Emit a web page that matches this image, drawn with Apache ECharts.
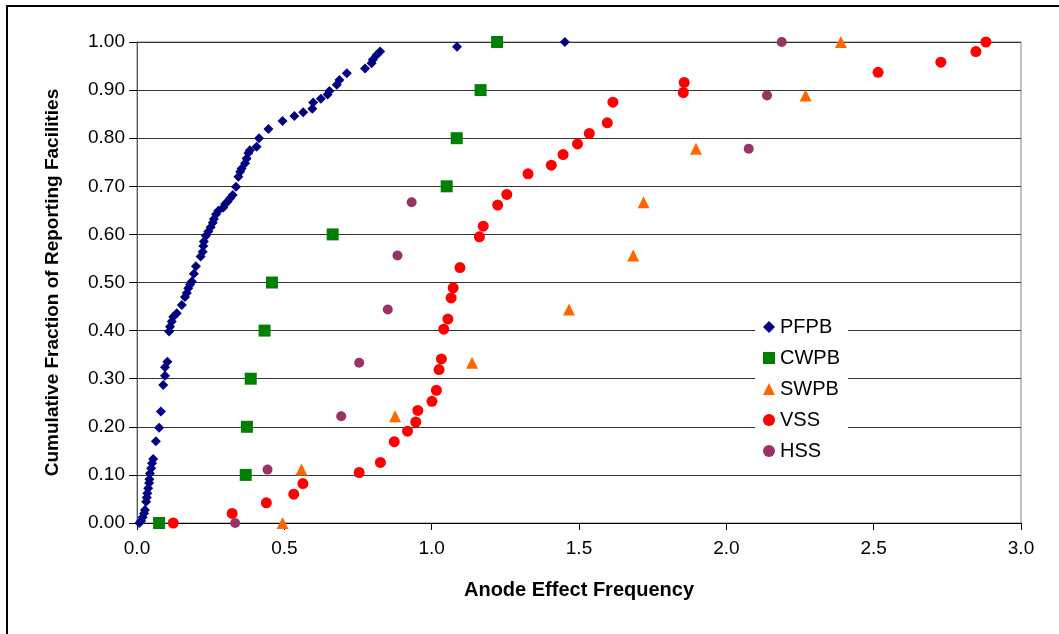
<!DOCTYPE html>
<html>
<head>
<meta charset="utf-8">
<script src="https://cdn.jsdelivr.net/npm/echarts@6/dist/echarts.min.js"></script>
<style>html,body{margin:0;padding:0;background:#fff}#c{width:1059px;height:634px}</style>
</head>
<body>
<div id="c"></div>
<script>
const seriesNames = ['PFPB','CWPB','SWPB','VSS','HSS'];
const xTicks = ['0.0','0.5','1.0','1.5','2.0','2.5','3.0'];
const yTicks = ['0.00','0.10','0.20','0.30','0.40','0.50','0.60','0.70','0.80','0.90','1.00'];

const PFPB = [[0.008,0.000],[0.014,0.004],[0.019,0.012],[0.024,0.020],[0.027,0.027],[0.031,0.044],[0.033,0.053],[0.035,0.062],[0.038,0.072],[0.041,0.083],[0.042,0.091],[0.044,0.103],[0.048,0.114],[0.051,0.124],[0.055,0.133],[0.064,0.170],[0.075,0.198],[0.081,0.232],[0.089,0.287],[0.095,0.306],[0.095,0.324],[0.103,0.335],[0.109,0.398],[0.112,0.408],[0.118,0.419],[0.123,0.429],[0.135,0.436],[0.152,0.453],[0.163,0.470],[0.169,0.478],[0.174,0.488],[0.180,0.496],[0.186,0.502],[0.193,0.518],[0.200,0.534],[0.216,0.554],[0.223,0.564],[0.225,0.576],[0.227,0.585],[0.234,0.597],[0.242,0.606],[0.250,0.615],[0.257,0.624],[0.261,0.632],[0.268,0.642],[0.276,0.649],[0.293,0.656],[0.299,0.663],[0.307,0.668],[0.316,0.675],[0.325,0.682],[0.336,0.699],[0.344,0.720],[0.350,0.730],[0.355,0.737],[0.367,0.748],[0.372,0.758],[0.378,0.769],[0.383,0.775],[0.406,0.782],[0.414,0.800],[0.446,0.819],[0.494,0.836],[0.534,0.846],[0.564,0.854],[0.595,0.861],[0.598,0.874],[0.624,0.882],[0.647,0.891],[0.653,0.898],[0.678,0.911],[0.687,0.921],[0.712,0.935],[0.774,0.945],[0.796,0.956],[0.800,0.963],[0.813,0.973],[0.825,0.980],[1.086,0.990],[1.452,1.000]];
const CWPB = [[0.075,0],[0.369,0.1],[0.373,0.2],[0.386,0.3],[0.433,0.4],[0.458,0.5],[0.664,0.6],[1.051,0.7],[1.085,0.8],[1.166,0.9],[1.222,1.0]];
const SWPB = [[0.494,0],[0.558,0.111],[0.876,0.222],[1.137,0.333],[1.466,0.444],[1.684,0.556],[1.719,0.667],[1.897,0.778],[2.269,0.889],[2.389,1.0]];
const VSS = [[0.123,0.000],[0.323,0.020],[0.439,0.042],[0.532,0.060],[0.563,0.082],[0.754,0.105],[0.826,0.126],[0.873,0.169],[0.918,0.191],[0.946,0.210],[0.953,0.234],[1.001,0.253],[1.016,0.276],[1.025,0.319],[1.033,0.341],[1.041,0.403],[1.055,0.424],[1.066,0.468],[1.073,0.489],[1.096,0.531],[1.162,0.595],[1.175,0.617],[1.224,0.661],[1.255,0.683],[1.327,0.726],[1.406,0.744],[1.446,0.766],[1.495,0.788],[1.535,0.810],[1.596,0.832],[1.615,0.875],[1.854,0.895],[1.857,0.916],[2.515,0.937],[2.728,0.958],[2.847,0.980],[2.881,1.000]];
const HSS = [[0.333,0],[0.443,0.111],[0.693,0.222],[0.754,0.333],[0.851,0.444],[0.884,0.556],[0.932,0.667],[2.076,0.778],[2.138,0.889],[2.188,1.0]];

const dataSets = [PFPB, CWPB, SWPB, VSS, HSS];
const colors = ['#000080','#008000','#FF6600','#FF0000','#993366'];
const symbols = ['diamond','rect','triangle','circle','circle'];
const sizes = [10,12,12,11,10];

const FONT = '"Liberation Sans", Arial, sans-serif';
const chart = echarts.init(document.getElementById('c'), null, {renderer:'canvas'});
chart.setOption({
  animation:false,
  backgroundColor:'#fff',
  graphic:[{type:'rect', shape:{x:7,y:6,width:1200,height:1000}, style:{fill:'none', stroke:'#000', lineWidth:2}, z:-10}],
  grid:{left:137, right:38, top:42, bottom:111, show:true, borderColor:'#808080', borderWidth:1, backgroundColor:'transparent'},
  legend:{
    orient:'vertical', left:755, top:311, itemGap:11, itemWidth:12, itemHeight:12,
    backgroundColor:'#fff', padding:[6,8,6,8],
    textStyle:{fontFamily:FONT, fontSize:20, color:'#000'},
    data: seriesNames.map((n,i)=>({name:n, icon:symbols[i], itemStyle:{color:colors[i]}}))
  },
  xAxis:{
    type:'value', min:0, max:3, interval:0.5,
    name:'Anode Effect Frequency', nameLocation:'middle', nameGap:57,
    nameTextStyle:{fontFamily:FONT, fontSize:20, fontWeight:'bold', color:'#000'},
    axisLine:{show:true, onZero:false, lineStyle:{color:'#000', width:1}},
    axisTick:{show:true, length:7, lineStyle:{color:'#000'}},
    axisLabel:{fontFamily:FONT, fontSize:19, color:'#000', margin:16, formatter:(v)=>xTicks[Math.round(v/0.5)]},
    splitLine:{show:false}
  },
  yAxis:{
    type:'value', min:0, max:1, interval:0.1,
    name:'Cumulative Fraction of Reporting Facilities', nameLocation:'middle', nameGap:75,
    nameTextStyle:{fontFamily:FONT, fontSize:19, fontWeight:'bold', color:'#000'},
    axisLine:{show:true, onZero:false, lineStyle:{color:'#555', width:1}},
    axisTick:{show:true, inside:false, length:8, lineStyle:{color:'#000'}},
    axisLabel:{fontFamily:FONT, fontSize:19, color:'#000', margin:12, formatter:(v)=>yTicks[Math.round(v*10)]},
    splitLine:{show:true, lineStyle:{color:'#333', width:1}}
  },
  series: dataSets.map((d,i)=>({
    name:seriesNames[i], type:'scatter', data:d, symbol:symbols[i], symbolSize:sizes[i],
    itemStyle:{color:colors[i], opacity:1}, z:2+i
  }))
});
</script>
</body>
</html>
